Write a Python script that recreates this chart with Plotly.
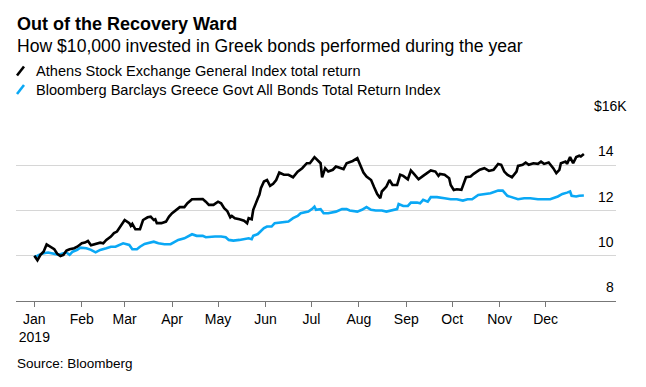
import plotly.graph_objects as go

# ---------------- data ----------------
stock_dates = [
    "2019-01-01", "2019-01-03", "2019-01-05", "2019-01-07", "2019-01-09", "2019-01-11", "2019-01-14",
    "2019-01-16", "2019-01-18", "2019-01-20", "2019-01-22", "2019-01-24", "2019-01-27", "2019-01-29",
    "2019-02-01", "2019-02-03", "2019-02-05", "2019-02-07", "2019-02-10", "2019-02-13", "2019-02-15",
    "2019-02-17", "2019-02-20", "2019-02-22", "2019-02-24", "2019-02-26", "2019-03-01", "2019-03-04",
    "2019-03-05", "2019-03-06", "2019-03-08", "2019-03-11", "2019-03-13", "2019-03-16", "2019-03-18",
    "2019-03-20", "2019-03-21", "2019-03-22", "2019-03-25", "2019-03-28", "2019-03-30", "2019-04-01",
    "2019-04-04", "2019-04-06", "2019-04-09", "2019-04-11", "2019-04-14", "2019-04-17", "2019-04-21",
    "2019-04-23", "2019-04-25", "2019-04-28", "2019-05-01", "2019-05-03", "2019-05-05", "2019-05-07",
    "2019-05-09", "2019-05-10", "2019-05-12", "2019-05-15", "2019-05-18", "2019-05-20", "2019-05-21",
    "2019-05-23", "2019-05-24", "2019-05-27", "2019-05-28", "2019-05-29", "2019-05-31", "2019-06-02",
    "2019-06-04", "2019-06-06", "2019-06-08", "2019-06-10", "2019-06-13", "2019-06-16", "2019-06-19",
    "2019-06-22", "2019-06-25", "2019-06-28", "2019-06-30", "2019-07-03", "2019-07-05", "2019-07-07",
    "2019-07-08", "2019-07-10", "2019-07-12", "2019-07-15", "2019-07-17", "2019-07-20", "2019-07-22",
    "2019-07-24", "2019-07-28", "2019-07-31", "2019-08-02", "2019-08-04", "2019-08-06", "2019-08-09",
    "2019-08-11", "2019-08-13", "2019-08-15", "2019-08-16", "2019-08-19", "2019-08-21", "2019-08-23",
    "2019-08-26", "2019-08-28", "2019-08-30", "2019-09-02", "2019-09-04", "2019-09-06", "2019-09-09",
    "2019-09-12", "2019-09-14", "2019-09-17", "2019-09-20", "2019-09-22", "2019-09-23", "2019-09-26",
    "2019-09-29", "2019-09-30", "2019-10-02", "2019-10-04", "2019-10-07", "2019-10-09", "2019-10-10",
    "2019-10-13", "2019-10-15", "2019-10-19", "2019-10-22", "2019-10-25", "2019-10-28", "2019-10-31",
    "2019-11-02", "2019-11-04", "2019-11-06", "2019-11-09", "2019-11-12", "2019-11-13", "2019-11-16",
    "2019-11-18", "2019-11-20", "2019-11-23", "2019-11-26", "2019-11-28", "2019-11-30", "2019-12-03",
    "2019-12-06", "2019-12-08", "2019-12-10", "2019-12-11", "2019-12-14", "2019-12-15", "2019-12-17",
    "2019-12-19", "2019-12-21", "2019-12-23", "2019-12-24", "2019-12-26",
]
stock_values = [
    10.00, 9.80, 10.04, 10.18, 10.50, 10.40, 10.29,
    10.08, 9.99, 10.04, 10.23, 10.29, 10.33, 10.40,
    10.55, 10.58, 10.65, 10.46, 10.52, 10.58, 10.55,
    10.70, 10.85, 11.00, 11.07, 11.29, 11.58, 11.44,
    11.32, 11.41, 11.17, 11.17, 11.58, 11.70, 11.73,
    11.58, 11.61, 11.44, 11.44, 11.51, 11.73, 11.88,
    12.06, 12.15, 12.15, 12.32, 12.50, 12.50, 12.51,
    12.39, 12.25, 12.25, 12.39, 12.32, 12.10, 11.98,
    11.70, 11.76, 11.66, 11.61, 11.55, 11.44, 11.66,
    11.61, 12.03, 12.54, 12.69, 12.99, 13.28, 13.35,
    13.09, 13.18, 13.35, 13.68, 13.58, 13.58, 13.47,
    13.72, 13.87, 14.09, 14.09, 14.36, 14.24, 14.09,
    13.47, 13.87, 13.72, 13.80, 13.94, 13.87, 13.83,
    14.09, 14.19, 14.31, 14.02, 13.68, 13.50, 13.35,
    13.03, 12.73, 12.54, 12.84, 13.06, 13.35, 13.13,
    13.13, 13.58, 13.53, 13.38, 13.77, 13.62, 13.38,
    13.53, 13.62, 13.77, 13.72, 13.53, 13.62, 13.58,
    13.43, 13.13, 12.91, 12.94, 12.91, 13.28, 13.47,
    13.50, 13.62, 13.80, 13.87, 13.75, 13.80, 14.06,
    14.02, 13.72, 13.58, 13.47, 13.72, 13.97, 14.02,
    14.12, 14.02, 14.09, 14.06, 14.16, 14.06, 14.12,
    13.87, 13.65, 13.80, 14.09, 14.16, 14.06, 14.36,
    14.09, 14.36, 14.42, 14.39, 14.50,
]

bond_dates = [
    "2019-01-01", "2019-01-02", "2019-01-04", "2019-01-07", "2019-01-10", "2019-01-14", "2019-01-17",
    "2019-01-20", "2019-01-22", "2019-01-24", "2019-01-26", "2019-01-29", "2019-01-31", "2019-02-04",
    "2019-02-07", "2019-02-10", "2019-02-13", "2019-02-17", "2019-02-20", "2019-02-23", "2019-02-26",
    "2019-02-28", "2019-03-04", "2019-03-06", "2019-03-09", "2019-03-11", "2019-03-14", "2019-03-17",
    "2019-03-20", "2019-03-23", "2019-03-27", "2019-03-31", "2019-04-02", "2019-04-05", "2019-04-09",
    "2019-04-12", "2019-04-14", "2019-04-17", "2019-04-21", "2019-04-23", "2019-04-26", "2019-04-29",
    "2019-05-03", "2019-05-06", "2019-05-08", "2019-05-11", "2019-05-15", "2019-05-18", "2019-05-21",
    "2019-05-23", "2019-05-24", "2019-05-27", "2019-05-28", "2019-05-31", "2019-06-02", "2019-06-05",
    "2019-06-07", "2019-06-10", "2019-06-13", "2019-06-16", "2019-06-19", "2019-06-22", "2019-06-24",
    "2019-06-27", "2019-06-29", "2019-07-02", "2019-07-03", "2019-07-04", "2019-07-07", "2019-07-09",
    "2019-07-12", "2019-07-17", "2019-07-21", "2019-07-24", "2019-07-26", "2019-07-31", "2019-08-03",
    "2019-08-06", "2019-08-09", "2019-08-12", "2019-08-16", "2019-08-19", "2019-08-23", "2019-08-26",
    "2019-08-27", "2019-08-30", "2019-09-02", "2019-09-04", "2019-09-08", "2019-09-10", "2019-09-12",
    "2019-09-15", "2019-09-17", "2019-09-21", "2019-09-26", "2019-09-30", "2019-10-04", "2019-10-08",
    "2019-10-11", "2019-10-14", "2019-10-18", "2019-10-22", "2019-10-26", "2019-10-31", "2019-11-03",
    "2019-11-06", "2019-11-09", "2019-11-13", "2019-11-17", "2019-11-21", "2019-11-26", "2019-11-30",
    "2019-12-04", "2019-12-09", "2019-12-12", "2019-12-15", "2019-12-17", "2019-12-18", "2019-12-21",
    "2019-12-23", "2019-12-26",
]
bond_values = [
    10.00, 9.96, 10.04, 10.11, 10.14, 10.08, 10.04,
    10.11, 10.14, 10.04, 10.18, 10.26, 10.36, 10.33,
    10.26, 10.15, 10.26, 10.33, 10.40, 10.40, 10.48,
    10.55, 10.48, 10.29, 10.29, 10.40, 10.52, 10.58,
    10.62, 10.55, 10.51, 10.51, 10.58, 10.70, 10.77,
    10.88, 10.95, 10.88, 10.88, 10.82, 10.85, 10.85,
    10.85, 10.82, 10.70, 10.67, 10.70, 10.73, 10.77,
    10.73, 10.88, 10.96, 11.02, 11.22, 11.29, 11.29,
    11.44, 11.46, 11.51, 11.51, 11.66, 11.76, 11.88,
    11.91, 11.95, 12.10, 12.17, 12.03, 12.06, 11.88,
    11.88, 11.95, 12.06, 12.06, 12.00, 11.95, 12.03,
    12.15, 12.03, 12.00, 12.00, 11.95, 12.03, 12.06,
    12.29, 12.20, 12.20, 12.35, 12.35, 12.32, 12.47,
    12.39, 12.59, 12.59, 12.54, 12.50, 12.50, 12.44,
    12.50, 12.50, 12.69, 12.72, 12.76, 12.88, 12.88,
    12.65, 12.59, 12.50, 12.54, 12.54, 12.50, 12.50,
    12.50, 12.62, 12.73, 12.79, 12.84, 12.65, 12.62,
    12.65, 12.66,
]

series_names = [
    "Athens Stock Exchange General Index total return",
    "Bloomberg Barclays Greece Govt All Bonds Total Return Index",
]
series_colors = ["#000000", "#0aa8f5"]

month_ticks = ["2019-01-01", "2019-02-01", "2019-03-01", "2019-04-01", "2019-05-01", "2019-06-01",
               "2019-07-01", "2019-08-01", "2019-09-01", "2019-10-01", "2019-11-01", "2019-12-01"]
month_labels = ["Jan<br>2019", "Feb", "Mar", "Apr", "May", "Jun", "Jul", "Aug", "Sep", "Oct", "Nov", "Dec"]

y_ticks = [8, 10, 12, 14, 16]
y_labels = ["8", "10", "12", "14", "$16K"]

title_text = "Out of the Recovery Ward"
subtitle_text = "How $10,000 invested in Greek bonds performed during the year"
source_text = "Source: Bloomberg"

# ---------------- layout constants ----------------
W, H = 646, 387
L, R, T, B = 16, 30, 120, 86
PW, PH = W - L - R, H - T - B
FONT = "Liberation Sans, Arial, Helvetica, sans-serif"


def px(x):
    return (x - L) / PW


def py(y):
    return (H - B - y) / PH


fig = go.Figure()
for d, v, name, color in [(stock_dates, stock_values, series_names[0], series_colors[0]),
                          (bond_dates, bond_values, series_names[1], series_colors[1])][::-1]:
    fig.add_trace(go.Scatter(x=d, y=v, mode="lines", name=name,
                             line=dict(color=color, width=2.6), hoverinfo="skip"))

annotations = [
    dict(text="<b>%s</b>" % title_text, x=px(15), y=py(24), font=dict(size=18, color="#000")),
    dict(text=subtitle_text, x=px(15), y=py(46), font=dict(size=17.6, color="#000")),
    dict(text=series_names[0], x=px(34), y=py(71), font=dict(size=14.6, color="#000")),
    dict(text=series_names[1], x=px(34), y=py(89.5), font=dict(size=14.6, color="#000")),
    dict(text=source_text, x=px(15), y=py(363), font=dict(size=13.5, color="#000")),
]
for a in annotations:
    a.update(xref="paper", yref="paper", xanchor="left", yanchor="middle", showarrow=False)

for v, t in zip(y_ticks, y_labels):
    xr = 1.0 if t != y_labels[-1] else px(629)
    annotations.append(dict(text=t, xref="paper", yref="y", x=xr, y=v, yshift=14,
                            xanchor="right", yanchor="middle", showarrow=False,
                            font=dict(size=14, color="#000")))

shapes = []
for i, color in enumerate(series_colors):
    y0 = 75.5 + i * 18.5
    shapes.append(dict(type="line", xref="paper", yref="paper",
                       x0=px(17), y0=py(y0), x1=px(24), y1=py(y0 - 9),
                       line=dict(color=color, width=2.6)))

fig.update_layout(
    width=W, height=H,
    margin=dict(l=L, r=R, t=T, b=B),
    paper_bgcolor="white", plot_bgcolor="white",
    font=dict(family=FONT, color="#000"),
    showlegend=False,
    hovermode=False,
    annotations=annotations,
    shapes=shapes,
    xaxis=dict(
        type="date",
        range=["2018-12-20", "2020-01-16"],
        tickvals=month_ticks, ticktext=month_labels,
        ticks="outside", ticklen=5, tickwidth=1, tickcolor="#777",
        showline=True, linecolor="#777", linewidth=1,
        showgrid=False, zeroline=False,
        tickfont=dict(size=14, color="#000"),
    ),
    yaxis=dict(
        range=[8, 16],
        tickvals=y_ticks,
        showticklabels=False,
        showgrid=True, gridcolor="#d6d6d6", gridwidth=1,
        zeroline=False, showline=False, ticks="",
    ),
)

fig.write_html("out.html",
               config={"displayModeBar": False, "staticPlot": True},
               post_script="document.body.style.margin='0';document.body.style.overflow='hidden';")
